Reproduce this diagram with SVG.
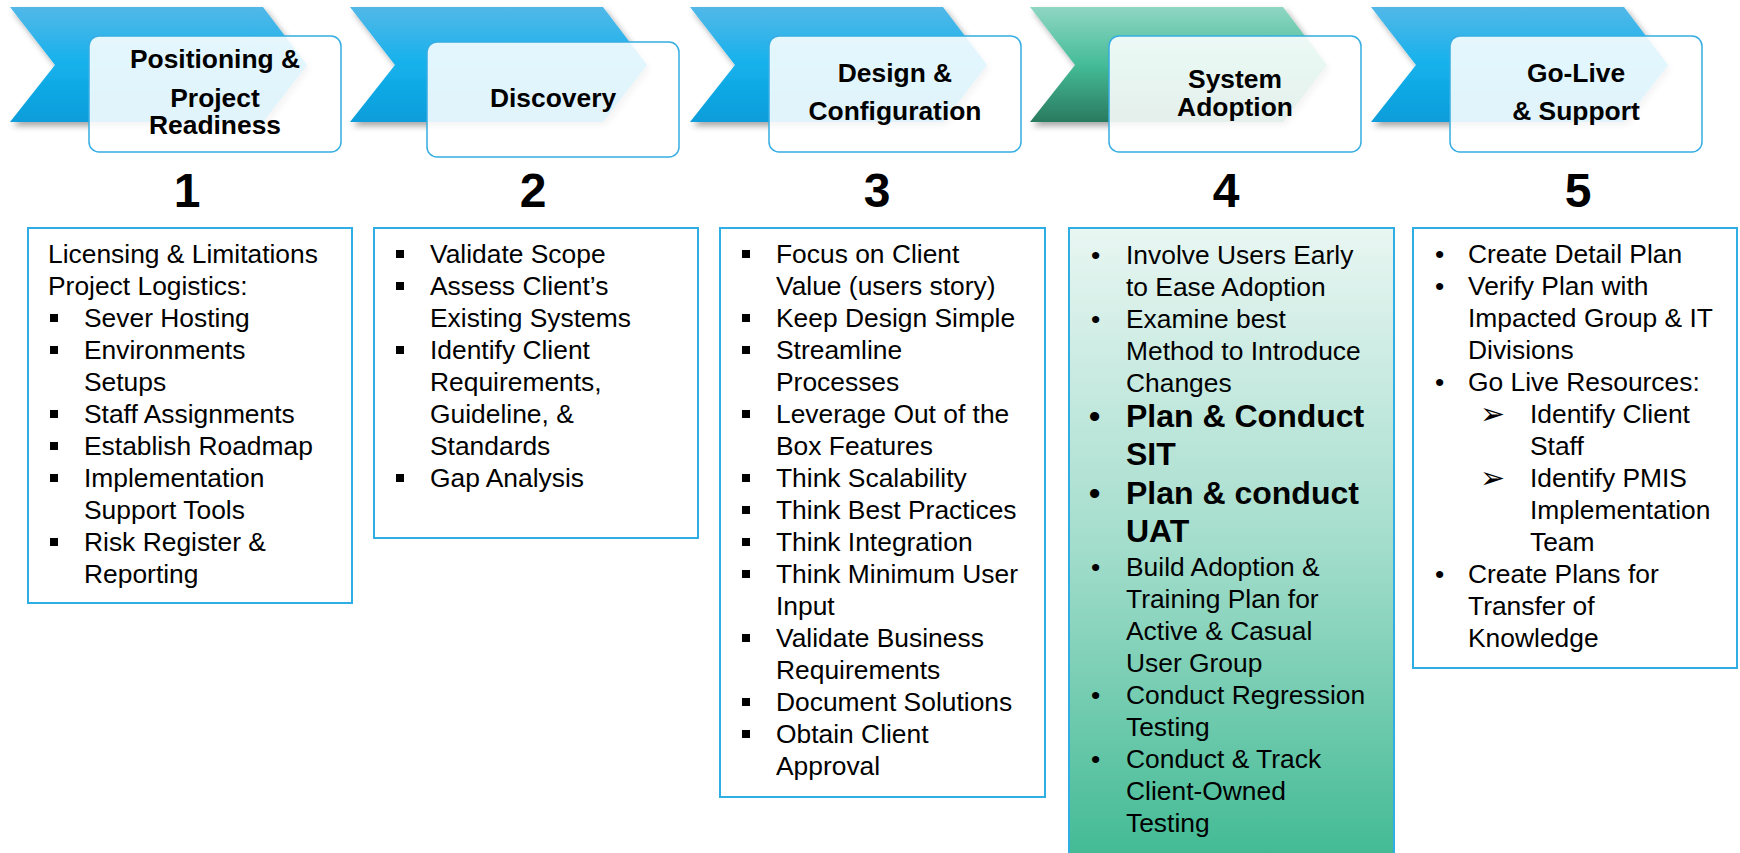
<svg xmlns="http://www.w3.org/2000/svg" width="1740" height="853" viewBox="0 0 1740 853">
<defs>
<linearGradient id="gBlue" x1="0" y1="0" x2="0" y2="1">
<stop offset="0" stop-color="#52b8e8"/>
<stop offset="0.5" stop-color="#14b1ec"/>
<stop offset="1" stop-color="#0a9dda"/>
</linearGradient>
<linearGradient id="gGreen" x1="0" y1="0" x2="0" y2="1">
<stop offset="0" stop-color="#8fd6c3"/>
<stop offset="0.5" stop-color="#45bc97"/>
<stop offset="1" stop-color="#2a7a5f"/>
</linearGradient>
<linearGradient id="gPanel" x1="0" y1="0" x2="0" y2="1">
<stop offset="0" stop-color="#e9f6f2"/>
<stop offset="0.5" stop-color="#a3ddcc"/>
<stop offset="1" stop-color="#3fb992"/>
</linearGradient>
<filter id="shadow" x="-10%" y="-10%" width="125%" height="140%">
<feDropShadow dx="3" dy="4" stdDeviation="3" flood-color="#000" flood-opacity="0.35"/>
</filter>
<path id="chev" d="M10,7 L263,7 L307,65 L263,122 L10,122 L55,65 Z"/>
</defs>
<style>
.hdr{fill:#ffffff;fill-opacity:0.88;stroke:#35ade2;stroke-width:1.5}
.panel{fill:#ffffff;stroke:#2eaee3;stroke-width:2}
.t{font-family:"Liberation Sans",Arial,sans-serif;font-size:26.4px;fill:#000}
.h{font-family:"Liberation Sans",Arial,sans-serif;font-size:26.4px;font-weight:bold;fill:#000;text-anchor:middle}
.n{font-family:"Liberation Sans",Arial,sans-serif;font-size:48px;font-weight:bold;fill:#000;text-anchor:middle}
.b{font-family:"Liberation Sans",Arial,sans-serif;font-size:32px;font-weight:bold;fill:#000}
.arr{font-family:"DejaVu Sans",sans-serif;font-size:30px;fill:#000}
.sq{fill:#000}
</style>

<g id="chevrons">
<use href="#chev" fill="url(#gBlue)" filter="url(#shadow)"/>
<use href="#chev" x="340" fill="url(#gBlue)" filter="url(#shadow)"/>
<use href="#chev" x="680" fill="url(#gBlue)" filter="url(#shadow)"/>
<use href="#chev" x="1020" fill="url(#gGreen)" filter="url(#shadow)"/>
<use href="#chev" x="1361" fill="url(#gBlue)" filter="url(#shadow)"/>
</g>

<g id="connectors"></g>

<g id="step1">
<rect class="hdr" x="89" y="36" width="252" height="116" rx="10"/>
<text class="h" x="215" y="68">Positioning &amp;</text>
<text class="h" x="215" y="107">Project</text>
<text class="h" x="215" y="134">Readiness</text>
<text class="n" x="187" y="207">1</text>
</g>
<g id="step2">
<rect class="hdr" x="427" y="42" width="252" height="115" rx="10"/>
<text class="h" x="553" y="107">Discovery</text>
<text class="n" x="533" y="207">2</text>
</g>
<g id="step3">
<rect class="hdr" x="769" y="36" width="252" height="116" rx="10"/>
<text class="h" x="895" y="82">Design &amp;</text>
<text class="h" x="895" y="120">Configuration</text>
<text class="n" x="877" y="207">3</text>
</g>
<g id="step4">
<rect class="hdr" x="1109" y="36" width="252" height="116" rx="10"/>
<text class="h" x="1235" y="88">System</text>
<text class="h" x="1235" y="116">Adoption</text>
<text class="n" x="1226" y="207">4</text>
</g>
<g id="step5">
<rect class="hdr" x="1450" y="36" width="252" height="116" rx="10"/>
<text class="h" x="1576" y="82">Go-Live</text>
<text class="h" x="1576" y="120">&amp; Support</text>
<text class="n" x="1578" y="207">5</text>
</g>

<g id="panel1">
<rect class="panel" x="28" y="228" width="324" height="375"/>
<text class="t" x="48" y="263">Licensing &amp; Limitations</text>
<text class="t" x="48" y="295">Project Logistics:</text>
<rect class="sq" x="50" y="314" width="8" height="8"/>
<text class="t" x="84" y="327">Sever Hosting</text>
<rect class="sq" x="50" y="346" width="8" height="8"/>
<text class="t" x="84" y="359">Environments</text>
<text class="t" x="84" y="391">Setups</text>
<rect class="sq" x="50" y="410" width="8" height="8"/>
<text class="t" x="84" y="423">Staff Assignments</text>
<rect class="sq" x="50" y="442" width="8" height="8"/>
<text class="t" x="84" y="455">Establish Roadmap</text>
<rect class="sq" x="50" y="474" width="8" height="8"/>
<text class="t" x="84" y="487">Implementation</text>
<text class="t" x="84" y="519">Support Tools</text>
<rect class="sq" x="50" y="538" width="8" height="8"/>
<text class="t" x="84" y="551">Risk Register &amp;</text>
<text class="t" x="84" y="583">Reporting</text>
</g>

<g id="panel2">
<rect class="panel" x="374" y="228" width="324" height="310"/>
<rect class="sq" x="396" y="250" width="8" height="8"/>
<text class="t" x="430" y="263">Validate Scope</text>
<rect class="sq" x="396" y="282" width="8" height="8"/>
<text class="t" x="430" y="295">Assess Client’s</text>
<text class="t" x="430" y="327">Existing Systems</text>
<rect class="sq" x="396" y="346" width="8" height="8"/>
<text class="t" x="430" y="359">Identify Client</text>
<text class="t" x="430" y="391">Requirements,</text>
<text class="t" x="430" y="423">Guideline, &amp;</text>
<text class="t" x="430" y="455">Standards</text>
<rect class="sq" x="396" y="474" width="8" height="8"/>
<text class="t" x="430" y="487">Gap Analysis</text>
</g>

<g id="panel3">
<rect class="panel" x="720" y="228" width="325" height="569"/>
<rect class="sq" x="742" y="250" width="8" height="8"/>
<text class="t" x="776" y="263">Focus on Client</text>
<text class="t" x="776" y="295">Value (users story)</text>
<rect class="sq" x="742" y="314" width="8" height="8"/>
<text class="t" x="776" y="327">Keep Design Simple</text>
<rect class="sq" x="742" y="346" width="8" height="8"/>
<text class="t" x="776" y="359">Streamline</text>
<text class="t" x="776" y="391">Processes</text>
<rect class="sq" x="742" y="410" width="8" height="8"/>
<text class="t" x="776" y="423">Leverage Out of the</text>
<text class="t" x="776" y="455">Box Features</text>
<rect class="sq" x="742" y="474" width="8" height="8"/>
<text class="t" x="776" y="487">Think Scalability</text>
<rect class="sq" x="742" y="506" width="8" height="8"/>
<text class="t" x="776" y="519">Think Best Practices</text>
<rect class="sq" x="742" y="538" width="8" height="8"/>
<text class="t" x="776" y="551">Think Integration</text>
<rect class="sq" x="742" y="570" width="8" height="8"/>
<text class="t" x="776" y="583">Think Minimum User</text>
<text class="t" x="776" y="615">Input</text>
<rect class="sq" x="742" y="634" width="8" height="8"/>
<text class="t" x="776" y="647">Validate Business</text>
<text class="t" x="776" y="679">Requirements</text>
<rect class="sq" x="742" y="698" width="8" height="8"/>
<text class="t" x="776" y="711">Document Solutions</text>
<rect class="sq" x="742" y="730" width="8" height="8"/>
<text class="t" x="776" y="743">Obtain Client</text>
<text class="t" x="776" y="775">Approval</text>
</g>

<g id="panel4">
<rect x="1069" y="228" width="325" height="640" fill="url(#gPanel)" stroke="#2eaee3" stroke-width="2"/>
<text class="t" x="1091" y="264">•</text>
<text class="t" x="1126" y="264">Involve Users Early</text>
<text class="t" x="1126" y="296">to Ease Adoption</text>
<text class="t" x="1091" y="328">•</text>
<text class="t" x="1126" y="328">Examine best</text>
<text class="t" x="1126" y="360">Method to Introduce</text>
<text class="t" x="1126" y="392">Changes</text>
<text class="b" x="1089" y="427">•</text>
<text class="b" x="1126" y="427">Plan &amp; Conduct</text>
<text class="b" x="1126" y="465">SIT</text>
<text class="b" x="1089" y="504">•</text>
<text class="b" x="1126" y="504">Plan &amp; conduct</text>
<text class="b" x="1126" y="542">UAT</text>
<text class="t" x="1091" y="576">•</text>
<text class="t" x="1126" y="576">Build Adoption &amp;</text>
<text class="t" x="1126" y="608">Training Plan for</text>
<text class="t" x="1126" y="640">Active &amp; Casual</text>
<text class="t" x="1126" y="672">User Group</text>
<text class="t" x="1091" y="704">•</text>
<text class="t" x="1126" y="704">Conduct Regression</text>
<text class="t" x="1126" y="736">Testing</text>
<text class="t" x="1091" y="768">•</text>
<text class="t" x="1126" y="768">Conduct &amp; Track</text>
<text class="t" x="1126" y="800">Client-Owned</text>
<text class="t" x="1126" y="832">Testing</text>
</g>

<g id="panel5">
<rect class="panel" x="1413" y="228" width="324" height="440"/>
<text class="t" x="1435" y="263">•</text>
<text class="t" x="1468" y="263">Create Detail Plan</text>
<text class="t" x="1435" y="295">•</text>
<text class="t" x="1468" y="295">Verify Plan with</text>
<text class="t" x="1468" y="327">Impacted Group &amp; IT</text>
<text class="t" x="1468" y="359">Divisions</text>
<text class="t" x="1435" y="391">•</text>
<text class="t" x="1468" y="391">Go Live Resources:</text>
<text class="arr" x="1480" y="424">➢</text>
<text class="t" x="1530" y="423">Identify Client</text>
<text class="t" x="1530" y="455">Staff</text>
<text class="arr" x="1480" y="488">➢</text>
<text class="t" x="1530" y="487">Identify PMIS</text>
<text class="t" x="1530" y="519">Implementation</text>
<text class="t" x="1530" y="551">Team</text>
<text class="t" x="1435" y="583">•</text>
<text class="t" x="1468" y="583">Create Plans for</text>
<text class="t" x="1468" y="615">Transfer of</text>
<text class="t" x="1468" y="647">Knowledge</text>
</g>
</svg>
